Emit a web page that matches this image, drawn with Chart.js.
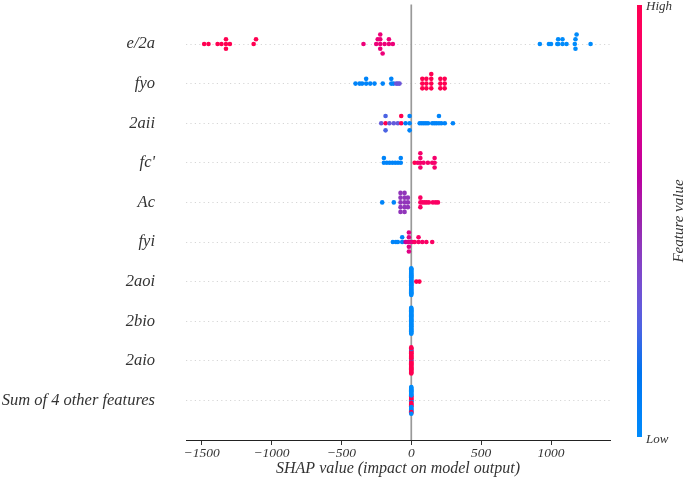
<!DOCTYPE html>
<html>
<head>
<meta charset="utf-8">
<script src="https://cdn.jsdelivr.net/npm/chart.js@4.4.1/dist/chart.umd.min.js"></script>
<style>
    html, body { margin: 0; padding: 0; background: #fff; }
    #wrap { width: 685px; height: 482px; }
</style>
</head>
<body>
<div id="wrap"><canvas id="chart" width="685" height="482"></canvas></div>
<script>
// feature names, top row first
var features = ['e/2a', 'fyo', '2aii', "fc'", 'Ac', 'fyi', '2aoi', '2bio', '2aio', 'Sum of 4 other features']

// shap values + feature values (0 = low, 1 = high)
var shapE2a = [-1482, -1451, -1386, -1358, -1326, -1326, -1326, -1298, -1128, -1111,
    -342, -251, -240, -222, -222, -222, -222, -205, -191, -160, -160, -132,
    920, 985, 1000, 1045, 1051, 1051, 1082, 1082, 1111, 1170, 1175, 1175, 1183, 1283]
var featE2a = [1, 1, 1, 1, 1, 1, 1, 1, 1, 1,
    0.82, 0.82, 0.82, 0.82, 0.82, 0.82, 0.82, 0.82, 0.82, 0.82, 0.82, 0.82,
    0, 0, 0, 0, 0, 0, 0, 0, 0, 0, 0, 0, 0, 0]

var shapFyo = [-399, -370, -352, -323, -323, -294, -263, -204, -143, -143, -128,
    -108, -96, -84,
    79, 79, 79, 108, 108, 108, 143, 143, 143, 143, 208, 208, 208, 239, 239, 239]
var featFyo = [0.05, 0.05, 0.05, 0.05, 0.05, 0.05, 0.05, 0.05, 0.05, 0.05, 0.05,
    0.32, 0.32, 0.32,
    1, 1, 1, 1, 1, 1, 1, 1, 1, 1, 1, 1, 1, 1, 1, 1]

var shap2aii = [-215, -184, -184, -184, -156, -125, -96, -72, -72, -41, -12, -12, -12,
    60, 75, 90, 105, 120, 150, 165, 180, 198, 198, 215, 240, 298]
var feat2aii = [0.3, 1, 0.25, 0.25, 0.3, 0.3, 0.3, 1, 1, 0.1, 0.05, 0.05, 0.05,
    0.05, 0.05, 0.05, 0.05, 0.05, 0.05, 0.05, 0.05, 0.05, 0.05, 0.05, 0.05, 0.05]

var shapFc = [-196, -196, -175, -155, -135, -115, -95, -75, -75,
    24, 47, 65, 65, 65, 65, 88, 119, 150, 167, 167, 167]
var featFc = [0.05, 0.05, 0.05, 0.05, 0.05, 0.05, 0.05, 0.05, 0.05,
    1, 0.88, 0.88, 0.88, 0.88, 0.88, 0.88, 0.88, 0.88, 0.88, 0.88, 0.88]

var shapAc = [-208, -125,
    -77, -77, -77, -77, -77, -48, -48, -48, -48, -48, -24, -24, -24,
    65, 65, 65, 80, 95, 110, 126, 155, 175, 191]
var featAc = [0.05, 0.05,
    0.45, 0.45, 0.45, 0.45, 0.45, 0.45, 0.45, 0.45, 0.45, 0.45, 0.45, 0.45, 0.45,
    0.92, 0.92, 0.92, 0.92, 0.92, 0.92, 0.92, 0.92, 0.92, 0.92]

var shapFyi = [-132, -110, -96, -65, -65,
    -41, -30, -17, -17, -17, -17, -17, -5, 10,
    24, 52, 52, 79, 108, 150]
var featFyi = [0.05, 0.05, 0.05, 0.05, 0.05,
    0.6, 0.7, 0.75, 0.75, 0.75, 0.75, 0.75, 0.75, 0.8,
    0.92, 0.9, 0.9, 0.9, 0.92, 0.92]

var shap2aoi = [0, 0, 0, 0, 0, 0, 0, 0, 0, 0, 0, 0, 0, 0, 0, 0, 0, 0, 0, 0, 0, 0, 0, 0, 0, 0, 0, 0, 0, 0, 0, 36, 58]
var feat2aoi = [0, 0, 0, 0, 0, 0, 0, 0, 0, 0, 0, 0, 0, 0, 0, 0, 0, 0, 0, 0, 0, 0, 0, 0, 0, 0, 0, 0, 0, 0, 0, 1, 1]

var shap2bio = [0, 0, 0, 0, 0, 0, 0, 0, 0, 0, 0, 0, 0, 0, 0, 0, 0, 0, 0, 0, 0, 0, 0, 0, 0, 0, 0, 0, 0, 0, 0, 0]
var feat2bio = [0, 0, 0, 0, 0, 0, 0, 0, 0, 0, 0, 0, 0, 0, 0, 0, 0, 0, 0, 0, 0, 0, 0, 0, 0, 0, 0, 0, 0, 0, 0, 0]

var shap2aio = [0, 0, 0, 0, 0, 0, 0, 0, 0, 0, 0, 0, 0, 0, 0, 0, 0, 0, 0, 0, 0, 0, 0, 0, 0, 0, 0, 0, 0, 0, 0, 0]
var feat2aio = [1, 1, 1, 0, 1, 1, 1, 1, 1, 1, 1, 1, 1, 1, 1, 1, 1, 1, 1, 1, 1, 1, 1, 1, 1, 1, 1, 0, 1, 1, 1, 1]

var shapSum = [0, 0, 0, 0, 0, 0, 0, 0, 0, 0, 0, 0, 0, 0, 0, 0, 0, 0, 0, 0, 0, 0, 0, 0, 0, 0, 0, 0, 0, 0, 0, 0, 0]
var featSum = [0, 1, 0, 1, 0, 1, 1, 1, 1, 1, 1, 0, 1, 0, 1, 0, 0, 0, 0, 0, 0, 0, 0, 0, 0, 0, 0, 0, 1, 0, 1, 0, 0]

var xTicks = [-1500, -1000, -500, 0, 500, 1000]

var rows = [
    [shapE2a, featE2a], [shapFyo, featFyo], [shap2aii, feat2aii], [shapFc, featFc], [shapAc, featAc],
    [shapFyi, featFyi], [shap2aoi, feat2aoi], [shap2bio, feat2bio], [shap2aio, feat2aio], [shapSum, featSum]
]

// shap red_blue colormap: interpolate in LCH, blue -> purple -> red
function lab2rgb(L, a, b) {
    var fy = (L + 16) / 116, fx = fy + a / 500, fz = fy - b / 200
    var f = t => t > 0.206893 ? t * t * t : (t - 16 / 116) / 7.787
    var X = 0.95047 * f(fx), Y = f(fy), Z = 1.08883 * f(fz)
    var r = 3.2406 * X - 1.5372 * Y - 0.4986 * Z
    var g = -0.9689 * X + 1.8758 * Y + 0.0415 * Z
    var bl = 0.0557 * X - 0.2040 * Y + 1.0570 * Z
    var gam = c => {
        c = c > 0.0031308 ? 1.055 * Math.pow(c, 1 / 2.4) - 0.055 : 12.92 * c
        return Math.round(Math.min(1, Math.max(0, c)) * 255)
    }
    return `rgb(${gam(r)}, ${gam(g)}, ${gam(bl)})`
}
function redBlue(t) {
    var L = t < 0.5 ? 54 - 14 * (t / 0.5) : 40 + 14 * ((t - 0.5) / 0.5)
    var C = 70 + 20 * t
    var h = 4.6588 + (0.35470565 + 2 * Math.PI - 4.6588) * t
    return lab2rgb(L, C * Math.cos(h), C * Math.sin(h))
}

// beeswarm offsets like shap: bin the values, stack points that share a bin
function swarm(vals, rowY) {
    var nbins = 100
    var lo = Math.min(...vals), hi = Math.max(...vals)
    var quant = vals.map(v => Math.round(nbins * (v - lo) / (hi - lo + 1e-8)))
    var order = vals.map((v, i) => i).sort((a, b) => quant[a] - quant[b] || a - b)
    var ys = vals.map(() => 0)
    var layer = 0, last = null
    order.forEach(i => {
        if (quant[i] !== last) layer = 0
        ys[i] = Math.ceil(layer / 2) * ((layer % 2) * 2 - 1)
        layer += 1
        last = quant[i]
    })
    var scale = 0.9 * 0.4 / Math.max(...ys.map(y => y + 1))
    return vals.map((v, i) => ({ x: v, y: rowY + ys[i] * scale }))
}

var datasets = rows.map((r, k) => {
    var rowY = features.length - 1 - k
    return {
        label: features[k],
        data: swarm(r[0], rowY),
        pointBackgroundColor: r[1].map(redBlue),
        pointRadius: 2.3,
        pointBorderWidth: 0,
        showLine: false
    }
})

var serif = "'Liberation Serif', 'Times New Roman', serif"

var extras = {
    id: 'extras',
    beforeDatasetsDraw(chart) {
        var { ctx, chartArea } = chart
        var x0 = chart.scales.x.getPixelForValue(0)
        ctx.save()
        ctx.strokeStyle = '#999999'
        ctx.lineWidth = 1.7
        ctx.beginPath()
        ctx.moveTo(x0, chartArea.top)
        ctx.lineTo(x0, chartArea.bottom)
        ctx.stroke()
        ctx.restore()
    },
    afterDraw(chart) {
        var { ctx } = chart
        var top = 5, bottom = 437, left = 637, w = 5
        ctx.save()
        var grad = ctx.createLinearGradient(0, bottom, 0, top)
        for (var i = 0; i <= 20; i++) grad.addColorStop(i / 20, redBlue(i / 20))
        ctx.fillStyle = grad
        ctx.fillRect(left, top, w, bottom - top)
        ctx.fillStyle = '#333333'
        ctx.font = `italic 13px ${serif}`
        ctx.textAlign = 'left'
        ctx.textBaseline = 'middle'
        ctx.fillText('High', 646, top + 2)
        ctx.fillText('Low', 646, bottom + 3)
        ctx.translate(679, 221)
        ctx.rotate(-Math.PI / 2)
        ctx.textAlign = 'center'
        ctx.font = `italic 15px ${serif}`
        ctx.fillText('Feature value', 0, 0)
        ctx.restore()
    }
}

new Chart(document.getElementById('chart'), {
    type: 'scatter',
    data: { datasets },
    options: {
        responsive: false,
        animation: false,
        layout: { padding: { top: 4.4, right: 75, bottom: 0, left: 0 } },
        plugins: { legend: { display: false }, tooltip: { enabled: false } },
        scales: {
            x: {
                min: -1612,
                max: 1422,
                afterBuildTicks(scale) {
                    scale.ticks = xTicks.map(v => ({ value: v }))
                },
                afterFit(scale) {
                    scale.height = 42
                    scale.paddingLeft = 0
                    scale.paddingRight = 0
                },
                border: { display: true, color: '#222222', width: 1 },
                grid: { drawOnChartArea: false, drawTicks: true, tickLength: 5, color: '#333333' },
                ticks: {
                    padding: 0,
                    color: '#333333',
                    font: { family: serif, style: 'italic', size: 13.5 },
                    callback: v => v < 0 ? '\u2212' + Math.abs(v) : String(v)
                },
                title: {
                    display: true,
                    text: 'SHAP value (impact on model output)',
                    color: '#333333',
                    padding: { top: 0, bottom: 4 },
                    font: { family: serif, style: 'italic', size: 16 }
                }
            },
            y: {
                min: -1,
                max: 10,
                afterBuildTicks(scale) {
                    var t = []
                    for (var i = -1; i <= 10; i++) t.push({ value: i })
                    scale.ticks = t
                },
                afterFit(scale) {
                    scale.width = 186
                    scale.paddingTop = 0
                    scale.paddingBottom = 0
                },
                border: { display: false, dash: [1.2, 3.2] },
                grid: {
                    drawTicks: false,
                    lineWidth: 0.8,
                    color: ctx => (ctx.tick && ctx.tick.value >= 0 && ctx.tick.value <= 9) ? '#cccccc' : 'rgba(0,0,0,0)'
                },
                ticks: {
                    padding: 31,
                    color: '#333333',
                    font: { family: serif, style: 'italic', size: 16.5 },
                    callback: v => (v >= 0 && v <= 9) ? features[features.length - 1 - v] : ''
                }
            }
        }
    },
    plugins: [extras]
})
</script>
</body>
</html>
